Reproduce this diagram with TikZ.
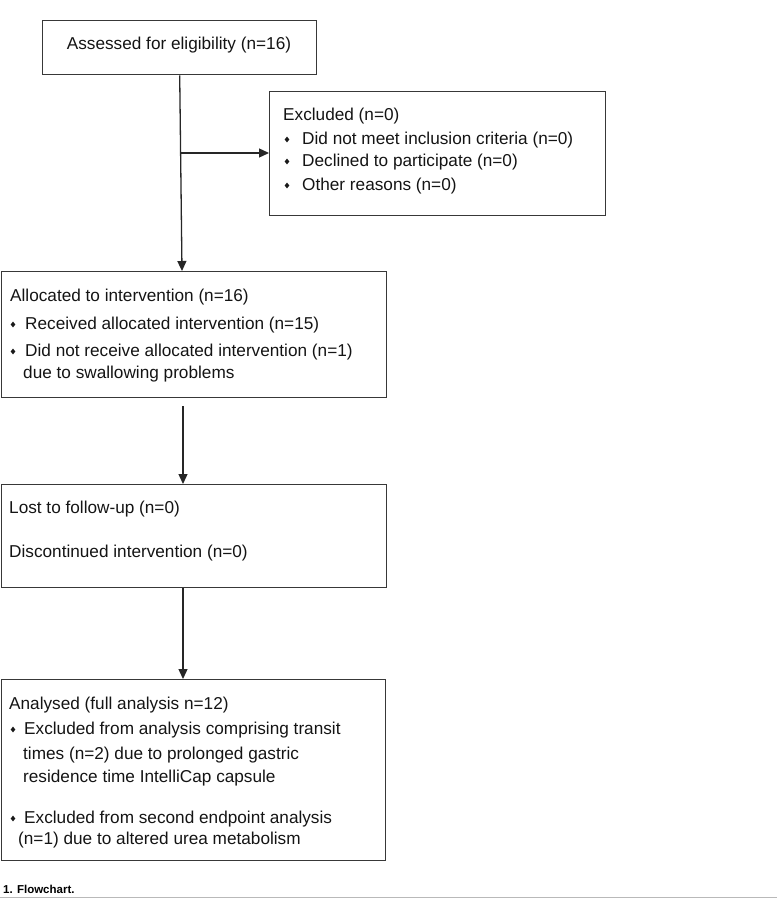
\documentclass[tikz,border=0pt]{standalone}
\usepackage{fontspec}
\setmainfont{Liberation Sans}
\usetikzlibrary{arrows.meta}
\newcommand\dmd[2]{\fill[black!90] (#1-2.3,#2) -- (#1,#2-2.9) -- (#1+2.3,#2) -- (#1,#2+2.9) -- cycle;}
\begin{document}
\begin{tikzpicture}[x=1pt,y=-1pt,
  box/.style={draw=black!78, line width=1.4pt, rectangle, inner sep=0pt, anchor=north west},
  txt/.style={font=\fontsize{17.2}{20}\selectfont, anchor=base west, inner sep=0pt, text=black!92},
  arr/.style={draw=black!85, line width=1.3pt, -{Triangle[length=10pt,width=9pt]}}
]
\useasboundingbox (0,0) rectangle (777,905);

% boxes
\node[box, minimum width=274pt, minimum height=54pt] (b1) at (42,20) {};
\node[box, minimum width=336pt, minimum height=124pt] (b2) at (269,91) {};
\node[box, minimum width=385.3pt, minimum height=126pt] (b3) at (0.7,271) {};
\node[box, minimum width=385.3pt, minimum height=103pt] (b4) at (0.7,484) {};
\node[box, minimum width=384.3pt, minimum height=181pt] (b5) at (0.7,679) {};

% box 1
\node[txt, anchor=base] (t1) at (179,49) {Assessed for eligibility (n=16)};

% box 2
\node[txt] (t2a) at (283,120) {Excluded (n=0)};
\node[txt] (t2b) at (302,144) {Did not meet inclusion criteria (n=0)};
\node[txt] (t2c) at (302,166) {Declined to participate (n=0)};
\node[txt] (t2d) at (302,190) {Other reasons (n=0)};
\dmd{287}{139.5}
\dmd{287}{161.5}
\dmd{287}{185.5}

% box 3
\node[txt] (t3a) at (10,301) {Allocated to intervention (n=16)};
\node[txt] (t3b) at (25,329) {Received allocated intervention (n=15)};
\node[txt] (t3c) at (25,356) {Did not receive allocated intervention (n=1)};
\node[txt] (t3d) at (23,378) {due to swallowing problems};
\dmd{13}{324.5}
\dmd{13}{351.5}

% box 4
\node[txt] (t4a) at (9,513) {Lost to follow-up (n=0)};
\node[txt] (t4b) at (9,557) {Discontinued intervention (n=0)};

% box 5
\node[txt] (t5a) at (9,709) {Analysed (full analysis n=12)};
\node[txt] (t5b) at (24,734) {Excluded from analysis comprising transit};
\node[txt] (t5c) at (23,759) {times (n=2) due to prolonged gastric};
\node[txt] (t5d) at (23,782) {residence time IntelliCap capsule};
\node[txt] (t5e) at (24,823) {Excluded from second endpoint analysis};
\node[txt] (t5f) at (18,844) {(n=1) due to altered urea metabolism};
\dmd{13}{729.5}
\dmd{13}{818.5}

% connectors
\coordinate (a1) at (182,271);
\draw[arr] (b1.south) -- (a1);
\coordinate (j1) at (180.5,153);
\draw[arr] (j1) -- (j1 -| b2.west);
\coordinate (a2) at (183,406);
\draw[arr] (a2) -- (a2 |- b4.north);
\draw[arr] (b4.south -| a2) -- (a2 |- b5.north);

% caption
\node[font=\bfseries\fontsize{11.5}{13}\selectfont, anchor=base west, inner sep=0pt] (cap) at (3,893) {1. Flowchart.};
\draw[gray!55, line width=1.6pt] (0,897.5) -- (777,897.5);
\end{tikzpicture}
\end{document}
